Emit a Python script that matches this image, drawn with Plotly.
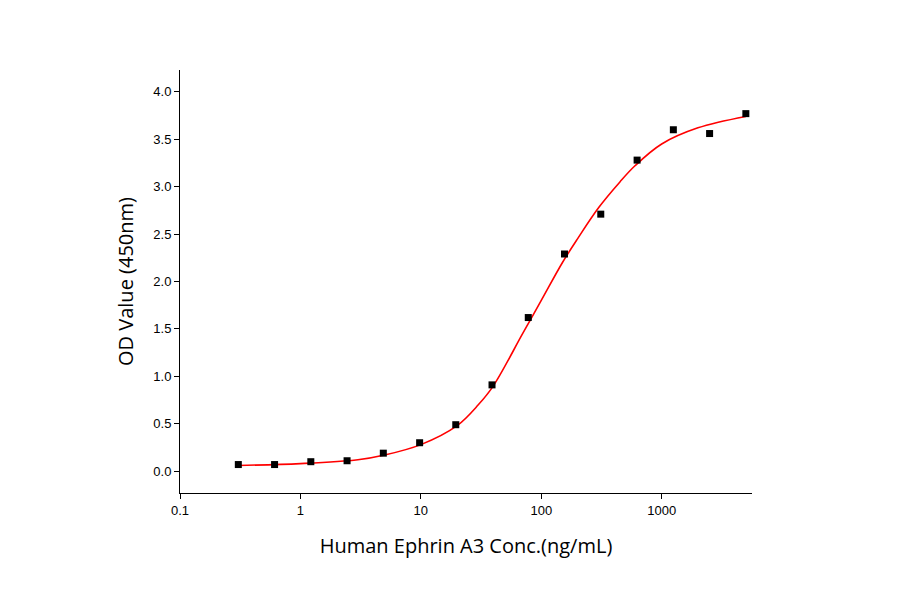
import plotly.graph_objects as go

conc = [0.305, 0.61, 1.22, 2.44, 4.88, 9.77, 19.5, 39, 78, 156, 312, 625, 1250, 2500, 5000]
od = [0.07, 0.07, 0.10, 0.11, 0.19, 0.30, 0.49, 0.91, 1.62, 2.29, 2.71, 3.28, 3.60, 3.56, 3.77]

# fitted curve
fit_x = [0.3, 1, 3, 5, 10, 20, 30, 40, 70, 100, 150, 200, 300, 450, 600, 1000, 2000, 5000]
fit_y = [0.06, 0.08, 0.12, 0.17, 0.28, 0.48, 0.70, 0.90, 1.45, 1.80, 2.20, 2.45, 2.78, 3.05, 3.22, 3.45, 3.62, 3.74]

fig = go.Figure()
fig.add_trace(go.Scatter(x=fit_x, y=fit_y, mode="lines", line=dict(color="red", width=1.6, shape="spline")))
fig.add_trace(go.Scatter(x=conc, y=od, mode="markers",
                         marker=dict(symbol="square", size=7, color="black")))

axis_common = dict(showline=True, linecolor="black", linewidth=1, ticks="outside",
                   ticklen=5, tickcolor="black", showgrid=False, zeroline=False,
                   tickfont=dict(size=13, color="black"))
fig.update_layout(
    width=900, height=594, plot_bgcolor="white", paper_bgcolor="white",
    showlegend=False,
    margin=dict(l=172, r=156, t=62, b=109),
    font=dict(family="Liberation Sans, Arial", color="black"),
    xaxis=dict(type="log", range=[-1, 3.75], tickvals=[0.1, 1, 10, 100, 1000],
               ticktext=["0.1", "1", "10", "100", "1000"],
               title=dict(text="Human Ephrin A3 Conc.(ng/mL)", font=dict(size=20, family="Open Sans"), standoff=22),
               **axis_common),
    yaxis=dict(range=[-0.23, 4.23], tickvals=[0, 0.5, 1, 1.5, 2, 2.5, 3, 3.5, 4],
               tickformat=".1f",
               title=dict(text="OD Value (450nm)", font=dict(size=20, family="Open Sans"), standoff=14),
               **axis_common),
)
fig.write_html("out.html")
